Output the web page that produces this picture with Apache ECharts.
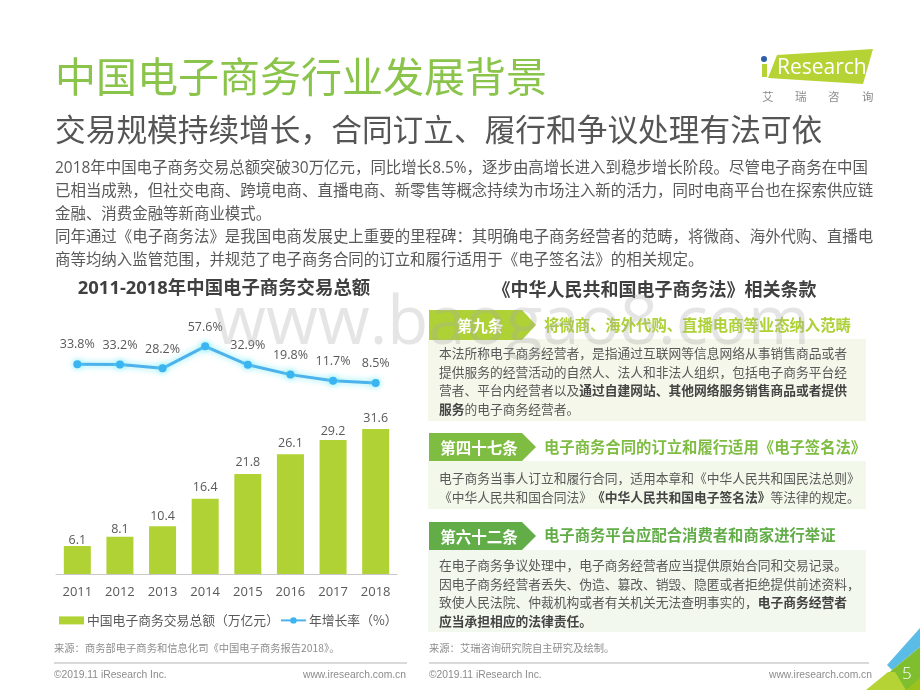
<!DOCTYPE html>
<html>
<head>
<meta charset="utf-8">
<title>中国电子商务行业发展背景</title>
<script src="https://cdn.jsdelivr.net/npm/echarts@6/dist/echarts.min.js"></script>
<style>
html, body { margin: 0; padding: 0; background: #fff; }
#main { width: 920px; height: 690px; }
</style>
</head>
<body>
<div id="main"></div>
<script>
var years = ['2011', '2012', '2013', '2014', '2015', '2016', '2017', '2018'];
var totals = [6.1, 8.1, 10.4, 16.4, 21.8, 26.1, 29.2, 31.6];
var growth = [33.8, 33.2, 28.2, 57.6, 32.9, 19.8, 11.7, 8.5];
var barName = '中国电子商务交易总额（万亿元）';
var lineName = '年增长率（%）';

var intro = [
    '2018年中国电子商务交易总额突破30万亿元，同比增长8.5%，逐步由高增长进入到稳步增长阶段。尽管电子商务在中国',
    '已相当成熟，但社交电商、跨境电商、直播电商、新零售等概念持续为市场注入新的活力，同时电商平台也在探索供应链',
    '金融、消费金融等新商业模式。',
    '同年通过《电子商务法》是我国电商发展史上重要的里程碑：其明确电子商务经营者的范畴，将微商、海外代购、直播电',
    '商等均纳入监管范围，并规范了电子商务合同的订立和履行适用于《电子签名法》的相关规定。'
];

var cjk = '"Noto Sans CJK SC", "Noto Sans", sans-serif';
var latin = '"Open Sans", "Noto Sans CJK SC", sans-serif';
var gray = '#595959';

function txt(x, y, text, size, color, extra) {
    var style = { x: x, y: y, text: text, fontSize: size, fill: color, fontFamily: cjk, verticalAlign: 'middle', align: 'left' };
    for (var k in extra) { style[k] = extra[k]; }
    return { type: 'text', style: style, z: 5 };
}

function box(x, y, w, h, color) {
    return { type: 'rect', shape: { x: x, y: y, width: w, height: h }, style: { fill: color }, z: 1 };
}

function poly(points, color, z) {
    return { type: 'polygon', shape: { points: points }, style: { fill: color }, z: z };
}

function arrow(x, y, w, h, color) {
    return poly([[x, y], [x + w - 14, y], [x + w, y + h / 2], [x + w - 14, y + h], [x, y + h]], color, 2);
}

// 正文里的加粗段落用 rich 文本
var richStyle = {
    n: { fontSize: 12.75, fill: gray, fontFamily: cjk, lineHeight: 18.6 },
    b: { fontSize: 12.75, fill: '#444', fontWeight: 'bold', fontFamily: cjk, lineHeight: 18.6 }
};

function panelText(x, y, text) {
    return { type: 'text', style: { x: x, y: y, text: text, rich: richStyle, verticalAlign: 'top' }, z: 5 };
}

var g = [];

// 标题
g.push(txt(55, 76, '中国电子商务行业发展背景', 41, '#8ac44b', { fontWeight: 400 }));
g.push(txt(55, 129, '交易规模持续增长，合同订立、履行和争议处理有法可依', 30.7, '#555', { fontWeight: 400 }));

// logo
g.push(poly([[777, 55], [873, 49], [863, 84], [768, 78]], '#b5d334', 1));
g.push({ type: 'circle', shape: { cx: 764, cy: 59, r: 3 }, style: { fill: '#2f5fa8' }, z: 2 });
g.push(poly([[762, 64], [767, 64], [767, 77], [762, 77]], '#b5d334', 2));
g.push(txt(777, 68, 'Research', 21, '#fff', { fontFamily: latin }));
g.push(txt(762, 97, '艾', 11.5, '#8c8c8c'));
g.push(txt(795, 97, '瑞', 11.5, '#8c8c8c'));
g.push(txt(828, 97, '咨', 11.5, '#8c8c8c'));
g.push(txt(862, 97, '询', 11.5, '#8c8c8c'));

// 导语
for (var i = 0; i < intro.length; i++) {
    g.push(txt(55, 169 + i * 23, intro[i], 15.45, gray, { fontFamily: latin }));
}

// 小标题
g.push(txt(224, 289, '2011-2018年中国电子商务交易总额', 18.4, '#404040', { fontWeight: 'bold', align: 'center', fontFamily: latin }));
g.push(txt(654.5, 289, '《中华人民共和国电子商务法》相关条款', 18, '#404040', { fontWeight: 'bold', align: 'center' }));

// 第九条
g.push(box(428, 339, 438, 82, '#f4f7ea'));
g.push(arrow(429, 310, 107, 30, '#aed136'));
g.push(txt(480, 326, '第九条', 15.5, '#fff', { fontWeight: 'bold', align: 'center' }));
g.push(txt(544, 325, '将微商、海外代购、直播电商等业态纳入范畴', 15.35, '#aed136', { fontWeight: 'bold' }));
g.push(panelText(439, 344, '{n|本法所称电子商务经营者，是指通过互联网等信息网络从事销售商品或者}\n{n|提供服务的经营活动的自然人、法人和非法人组织，包括电子商务平台经}\n{n|营者、平台内经营者以及}{b|通过自建网站、其他网络服务销售商品或者提供}\n{b|服务}{n|的电子商务经营者。}'));

// 第四十七条
g.push(box(428, 461, 438, 48, '#f2f8ea'));
g.push(arrow(429, 433, 107, 28, '#7fbc42'));
g.push(txt(479, 448, '第四十七条', 15.5, '#fff', { fontWeight: 'bold', align: 'center' }));
g.push(txt(544, 447, '电子商务合同的订立和履行适用《电子签名法》', 15.35, '#7fbc42', { fontWeight: 'bold' }));
g.push(panelText(439, 469, '{n|电子商务当事人订立和履行合同，适用本章和《中华人民共和国民法总则》}\n{n|《中华人民共和国合同法》}{b|《中华人民共和国电子签名法》}{n|等法律的规定。}'));

// 第六十二条
g.push(box(428, 550, 438, 82, '#f3f8ee'));
g.push(arrow(429, 522, 107, 28, '#62ad48'));
g.push(txt(479, 537, '第六十二条', 15.5, '#fff', { fontWeight: 'bold', align: 'center' }));
g.push(txt(544, 535, '电子商务平台应配合消费者和商家进行举证', 15.35, '#62ad48', { fontWeight: 'bold' }));
g.push(panelText(439, 556, '{n|在电子商务争议处理中，电子商务经营者应当提供原始合同和交易记录。}\n{n|因电子商务经营者丢失、伪造、篡改、销毁、隐匿或者拒绝提供前述资料，}\n{n|致使人民法院、仲裁机构或者有关机关无法查明事实的，}{b|电子商务经营者}\n{b|应当承担相应的法律责任。}'));

// 来源和页脚
g.push(txt(54, 648, '来源：商务部电子商务和信息化司《中国电子商务报告2018》。', 10.3, '#8c8c8c'));
g.push(txt(429, 648, '来源：艾瑞咨询研究院自主研究及绘制。', 10.3, '#8c8c8c'));
g.push(box(54, 662.5, 353, 1, '#b3b3b3'));
g.push(box(429, 662.5, 440, 1, '#b3b3b3'));
var foot = '"Liberation Sans", Arial, sans-serif';
g.push(txt(54, 675, '©2019.11 iResearch Inc.', 10.3, '#8c8c8c', { fontFamily: foot }));
g.push(txt(406, 675, 'www.iresearch.com.cn', 10.3, '#8c8c8c', { fontFamily: foot, align: 'right' }));
g.push(txt(429, 675, '©2019.11 iResearch Inc.', 10.3, '#8c8c8c', { fontFamily: foot }));
g.push(txt(872, 675, 'www.iresearch.com.cn', 10.3, '#8c8c8c', { fontFamily: foot, align: 'right' }));

// 右下角色块
g.push(poly([[920, 628], [887, 665], [892, 670], [920, 647]], '#5bbce8', 2));
g.push(poly([[920, 647], [892, 670], [870, 690], [920, 690]], '#7fbe2e', 2));
g.push(poly([[888, 672], [866, 690], [906, 690], [895, 672]], '#b5d334', 3));
g.push(poly([[906, 690], [920, 690], [920, 678]], '#9cc31c', 3));
g.push(txt(902, 674, '5', 17, '#fff', { fontFamily: latin, fontWeight: 300 }));

// 水印
g.push({ type: 'text', style: { x: 214, y: 358, text: 'www.baogao8.com', fontSize: 67, fill: 'rgba(170,170,170,0.3)', fontFamily: latin, verticalAlign: 'bottom' }, z: 10 });

// 前两根柱和2017的数字离柱顶更近
var barLabelGap = [-1, 1, 4, 5, 5, 5, 2, 4];
var barData = totals.map(function (v, idx) {
    return { value: v, label: { distance: barLabelGap[idx] } };
});

var chart = echarts.init(document.getElementById('main'), null, { renderer: 'canvas' });
chart.setOption({
    animation: false,
    graphic: g,
    legend: {
        left: 59,
        top: 614,
        padding: 0,
        itemGap: 1,
        itemWidth: 25,
        itemHeight: 8,
        textStyle: { fontSize: 12.8, color: gray, fontFamily: cjk, padding: [0, 0, 0, -2] },
        data: [
            { name: barName, icon: 'rect' },
            { name: lineName }
        ]
    },
    grid: { left: 56, right: 523, top: 330, bottom: 116 },
    xAxis: {
        type: 'category',
        data: years,
        axisTick: { show: false },
        axisLine: { lineStyle: { color: '#c8c8c8', width: 1 } },
        axisLabel: { fontSize: 13, color: gray, fontFamily: latin, margin: 12 }
    },
    yAxis: [
        { type: 'value', min: 0, max: 53.2, show: false },
        { type: 'value', min: -247, max: 79.5, show: false }
    ],
    series: [
        {
            name: barName,
            type: 'bar',
            data: barData,
            barWidth: 27,
            yAxisIndex: 0,
            itemStyle: { color: '#b0d235' },
            label: { show: true, position: 'top', fontSize: 12.5, color: gray, fontFamily: latin }
        },
        {
            name: lineName,
            type: 'line',
            data: growth,
            yAxisIndex: 1,
            symbol: 'circle',
            symbolSize: 8,
            lineStyle: { color: '#4db2ec', width: 3, shadowColor: 'rgba(90,230,240,0.8)', shadowBlur: 6 },
            itemStyle: { color: '#3bb4f2', shadowColor: 'rgba(90,230,240,0.8)', shadowBlur: 6 },
            label: {
                show: true,
                position: 'top',
                distance: 9,
                fontSize: 12.5,
                color: gray,
                fontFamily: latin,
                formatter: function (p) { return p.value + '%'; }
            }
        }
    ]
});
</script>
</body>
</html>
